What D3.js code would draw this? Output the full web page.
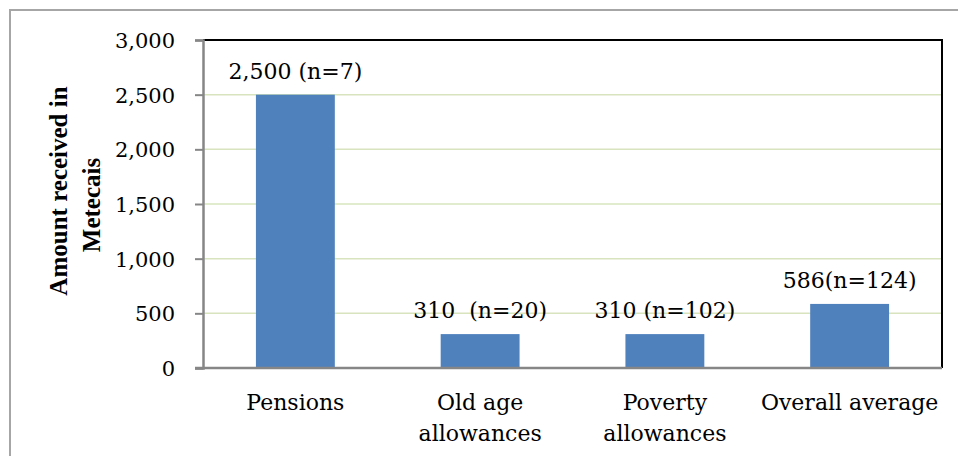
<!DOCTYPE html>
<html>
<head>
<meta charset="utf-8">
<script src="https://cdn.jsdelivr.net/npm/d3@7"></script>
<style>
  html, body { margin: 0; padding: 0; background: #fff; }
  svg { display: block; }
</style>
</head>
<body>
<svg id="chart" width="958" height="456"></svg>
<script>
const categories = [["Pensions"], ["Old age", "allowances"], ["Poverty", "allowances"], ["Overall average"]];
const values = [2500, 310, 310, 586];
const valueLabels = ["2,500 (n=7)", "310  (n=20)", "310 (n=102)", "586(n=124)"];
const yTicks = [0, 500, 1000, 1500, 2000, 2500, 3000];
const yTitle = ["Amount received in", "Metecais"];

const svg = d3.select("#chart");
const W = 958, H = 456;
const plot = { left: 203, top: 40, right: 942, bottom: 368 };
const font = "'DejaVu Serif', serif";

// outer chart border
svg.append("rect")
  .attr("x", 10).attr("y", 10).attr("width", W + 10).attr("height", H + 10)
  .attr("fill", "#fff").attr("stroke", "#a6a6a6").attr("stroke-width", 2);

const x = d3.scaleBand()
  .domain(d3.range(categories.length))
  .range([plot.left, plot.right])
  .paddingInner(0.573).paddingOuter(0.2865);

const y = d3.scaleLinear().domain([0, 3000]).range([plot.bottom, plot.top]);

// gridlines
svg.append("g").selectAll("line")
  .data(yTicks.filter(d => d > 0 && d < 3000))
  .join("line")
  .attr("x1", plot.left).attr("x2", plot.right)
  .attr("y1", d => y(d)).attr("y2", d => y(d))
  .attr("stroke", "#d7e4bd").attr("stroke-width", 1.5);

// bars
svg.append("g").selectAll("rect")
  .data(values)
  .join("rect")
  .attr("x", (d, i) => x(i))
  .attr("width", x.bandwidth())
  .attr("y", d => y(d))
  .attr("height", d => y(0) - y(d))
  .attr("fill", "#4f81bd");

// top and right border (black)
svg.append("path")
  .attr("d", `M${plot.left},${plot.top}H${plot.right}V${plot.bottom}`)
  .attr("fill", "none").attr("stroke", "#000").attr("stroke-width", 2);

// y axis
const yAxis = d3.axisLeft(y).tickValues(yTicks).tickSize(8).tickPadding(20)
  .tickFormat(d3.format(","));
const gy = svg.append("g").attr("transform", `translate(${plot.left},0)`).call(yAxis);
gy.select(".domain").attr("stroke", "#868686").attr("stroke-width", 2.5);
gy.selectAll(".tick line").attr("stroke", "#868686").attr("stroke-width", 2);
gy.selectAll(".tick text")
  .attr("font-family", font).attr("font-size", 21).attr("fill", "#000")
  .attr("dy", "0.35em");

// x axis baseline
svg.append("line")
  .attr("x1", plot.left - 8).attr("x2", plot.right)
  .attr("y1", y(0)).attr("y2", y(0))
  .attr("stroke", "#868686").attr("stroke-width", 2.5);

// category labels
const cat = svg.append("g").selectAll("text")
  .data(categories)
  .join("text")
  .attr("x", (d, i) => x(i) + x.bandwidth() / 2)
  .attr("y", 410)
  .attr("text-anchor", "middle")
  .attr("font-family", font).attr("font-size", 22).attr("fill", "#000");
cat.selectAll("tspan")
  .data(d => d)
  .join("tspan")
  .attr("x", function () { return d3.select(this.parentNode).attr("x"); })
  .attr("dy", (d, i) => i === 0 ? 0 : 31)
  .text(d => d);

// value labels
svg.append("g").selectAll("text")
  .data(values)
  .join("text")
  .attr("x", (d, i) => x(i) + x.bandwidth() / 2)
  .attr("y", d => y(d) - 16)
  .attr("text-anchor", "middle")
  .attr("font-family", font).attr("font-size", 22).attr("fill", "#000")
  .style("white-space", "pre")
  .attr("xml:space", "preserve")
  .text((d, i) => valueLabels[i]);

// y title
const yt = svg.append("g");
yt.append("text")
  .attr("transform", "translate(67,191) rotate(-90)")
  .attr("text-anchor", "middle")
  .attr("font-family", "'Liberation Serif', serif").attr("font-weight", "bold")
  .attr("font-size", 25).attr("fill", "#000")
  .text(yTitle[0]);
yt.append("text")
  .attr("transform", "translate(100,205) rotate(-90)")
  .attr("text-anchor", "middle")
  .attr("font-family", "'Liberation Serif', serif").attr("font-weight", "bold")
  .attr("font-size", 25).attr("fill", "#000")
  .text(yTitle[1]);
</script>
</body>
</html>
